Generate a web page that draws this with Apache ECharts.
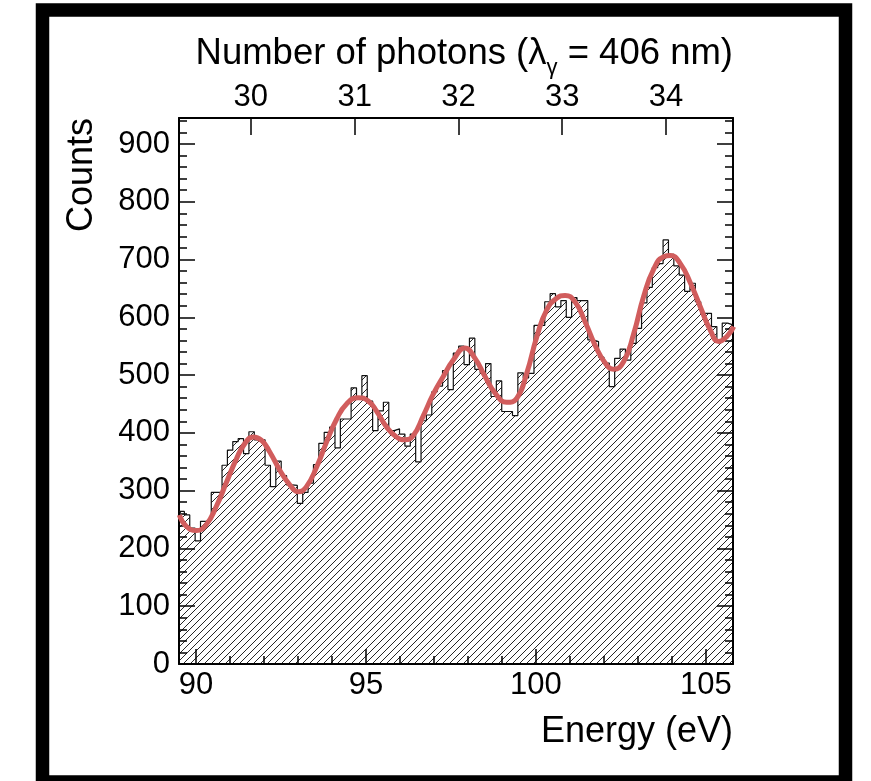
<!DOCTYPE html>
<html><head><meta charset="utf-8">
<script src="https://cdn.jsdelivr.net/npm/echarts@6/dist/echarts.min.js"></script>
<style>html,body{margin:0;padding:0;background:#fff}#c{width:871px;height:781px}</style>
</head><body><div id="c"></div>
<script>
// ---- data ----
const histMin = 89.5;   // eV, histogram / axis range
const histMax = 105.8;
const counts = [
  264, 258, 235, 213, 247, 249, 297, 297, 344, 370, 385, 390, 364, 402, 388, 388,
  344, 307, 351, 326, 310, 309, 278, 297, 313, 345, 382, 401, 410, 374, 424, 424,
  478, 458, 499, 455, 404, 438, 453, 404, 407, 398, 377, 398, 350, 421, 431, 471,
  481, 508, 475, 538, 550,
  518, 564, 510, 503, 520, 463, 490, 437, 437, 430, 504, 495, 503, 586, 586, 627,
  641, 618, 629, 600, 634, 629, 629, 561, 558, 531, 521, 480, 529, 545, 526, 555,
  581, 625, 652, 686, 693, 734, 709, 689, 673, 645, 659, 627, 607, 607, 584, 558,
  590, 587
];
const fitEnergy = [
  89.51, 89.72, 90.01, 90.30, 90.60, 90.90, 91.19, 91.43, 91.68, 91.93, 92.17, 92.47,
  92.76, 93.01, 93.25, 93.55, 93.84, 94.14, 94.43, 94.77, 95.07, 95.31, 95.61, 95.90,
  96.15, 96.39, 96.69, 96.98, 97.28, 97.57, 97.91, 98.21, 98.50, 98.80, 99.14, 99.44,
  99.73, 100.03, 100.32, 100.61, 100.86, 101.15, 101.45, 101.74, 102.04, 102.29, 102.58,
  102.88, 103.17, 103.47, 103.76, 103.96, 104.25, 104.55, 104.84, 105.13, 105.38, 105.62, 105.82
];
const fitCounts = [
  258, 238, 231, 241, 273, 315, 355, 381, 393, 387, 367, 335,
  310, 298, 307, 341, 384, 424, 450, 461, 455, 438, 410, 393,
  388, 395, 430, 467, 498, 526, 547, 529, 498, 469, 453, 460,
  503, 567, 613, 633, 638, 627, 592, 552, 521, 510, 523,
  572, 636, 684, 705, 707, 693, 659, 618, 578, 558, 567, 584
];
const energyMajorTicks = [90, 95, 100, 105];
const energyMinorTicks = [90, 91, 92, 93, 94, 95, 96, 97, 98, 99, 100, 101, 102, 103, 104, 105];
const photonTicks = [30, 31, 32, 33, 34];
const countMajorTicks = [0, 100, 200, 300, 400, 500, 600, 700, 800, 900];
const countMinorTicks = [0, 20, 40, 60, 80, 100, 120, 140, 160, 180, 200, 220, 240, 260, 280,
  300, 320, 340, 360, 380, 400, 420, 440, 460, 480, 500, 520, 540, 560, 580, 600, 620, 640,
  660, 680, 700, 720, 740, 760, 780, 800, 820, 840, 860, 880, 900, 920, 940];
const countMax = 945;
const photonEnergy = 1239.84 / 406; // eV per photon at 406 nm

// ---- build ----
const binWidth = (histMax - histMin) / counts.length;
const histPoints = counts.map((c, i) => [histMin + i * binWidth, c]);
histPoints.push([histMax, counts[counts.length - 1]]);
const fitPoints = fitEnergy.map((e, i) => [e, fitCounts[i]]);

// hatch pattern "/"
const hatch = document.createElement('canvas');
hatch.width = 7; hatch.height = 7;
const hc = hatch.getContext('2d');
hc.strokeStyle = '#000'; hc.lineWidth = 0.85;
hc.beginPath();
hc.moveTo(-1, 8); hc.lineTo(8, -1);
hc.moveTo(-1, 1); hc.lineTo(1, -1);
hc.moveTo(6, 8); hc.lineTo(8, 6);
hc.stroke();

const FONT = "'Liberation Sans', Arial, Helvetica, sans-serif";
const tickFont = 31;
const titleFont = 36;

const chart = echarts.init(document.getElementById('c'), null, {renderer: 'canvas'});
chart.setOption({
  animation: false,
  backgroundColor: '#fff',
  grid: {left: 179, right: 138, top: 118, bottom: 117, containLabel: false},
  xAxis: [
    { // bottom energy axis, major
      type: 'value', position: 'bottom', min: histMin, max: histMax,
      axisLine: {show: true, onZero: false, lineStyle: {color: '#000', width: 2}},
      axisTick: {show: true, inside: true, length: 15, customValues: energyMajorTicks, lineStyle: {color: '#000', width: 1.5}},
      axisLabel: {show: true, customValues: energyMajorTicks, margin: 6, color: '#000', fontSize: tickFont, fontFamily: FONT},
      splitLine: {show: false}
    },
    { // bottom energy axis, minor ticks
      type: 'value', position: 'bottom', min: histMin, max: histMax,
      axisLine: {show: false, onZero: false},
      axisTick: {show: true, inside: true, length: 8, customValues: energyMinorTicks, lineStyle: {color: '#000', width: 1.5}},
      axisLabel: {show: false},
      splitLine: {show: false}
    },
    { // top photon number axis
      type: 'value', position: 'top', min: histMin / photonEnergy, max: histMax / photonEnergy,
      axisLine: {show: true, onZero: false, lineStyle: {color: '#000', width: 2}},
      axisTick: {show: true, inside: true, length: 17, customValues: photonTicks, lineStyle: {color: '#000', width: 1.5}},
      axisLabel: {show: true, customValues: photonTicks, margin: 5, color: '#000', fontSize: tickFont, fontFamily: FONT},
      splitLine: {show: false}
    }
  ],
  yAxis: [
    {
      type: 'value', position: 'left', min: 0, max: countMax,
      axisLine: {show: true, onZero: false, lineStyle: {color: '#000', width: 2}},
      axisTick: {show: true, inside: true, length: 16, customValues: countMajorTicks, lineStyle: {color: '#000', width: 1.5}},
      axisLabel: {show: true, customValues: countMajorTicks, margin: 9, color: '#000', fontSize: tickFont, fontFamily: FONT},
      splitLine: {show: false}
    },
    {
      type: 'value', position: 'left', min: 0, max: countMax,
      axisLine: {show: false, onZero: false},
      axisTick: {show: true, inside: true, length: 8, customValues: countMinorTicks, lineStyle: {color: '#000', width: 1.5}},
      axisLabel: {show: false}, splitLine: {show: false}
    },
    {
      type: 'value', position: 'right', min: 0, max: countMax,
      axisLine: {show: true, onZero: false, lineStyle: {color: '#000', width: 2}},
      axisTick: {show: true, inside: true, length: 16, customValues: countMajorTicks, lineStyle: {color: '#000', width: 1.5}},
      axisLabel: {show: false}, splitLine: {show: false}
    },
    {
      type: 'value', position: 'right', min: 0, max: countMax,
      axisLine: {show: false, onZero: false},
      axisTick: {show: true, inside: true, length: 8, customValues: countMinorTicks, lineStyle: {color: '#000', width: 1.5}},
      axisLabel: {show: false}, splitLine: {show: false}
    }
  ],
  series: [
    {
      name: 'Counts', type: 'line', xAxisIndex: 0, yAxisIndex: 0,
      data: histPoints, step: 'end', symbol: 'none', clip: true,
      lineStyle: {color: '#111', width: 1.2},
      areaStyle: {color: {image: hatch, repeat: 'repeat'}, opacity: 1, origin: 'start'},
      z: 2
    },
    {
      name: 'Fit', type: 'line', xAxisIndex: 0, yAxisIndex: 0,
      data: fitPoints, smooth: 0.5, symbol: 'none', clip: true,
      lineStyle: {color: '#d15d5d', width: 5},
      z: 3
    }
  ],
  graphic: [
    {type: 'rect', silent: true, z: 10,
     shape: {x: 42.5, y: 10, width: 803, height: 772},
     style: {fill: 'none', stroke: '#000', lineWidth: 13.5}},
    {type: 'text', silent: true, x: 733, y: 57,
     style: {text: '{a|Number of photons (λ}{s|γ}{a| = 406 nm)}', align: 'right', verticalAlign: 'middle',
       rich: {
         a: {fontSize: 36.5, fontFamily: FONT, fill: '#000', lineHeight: 44, verticalAlign: 'top'},
         s: {fontSize: 22, fontFamily: FONT, fill: '#000', lineHeight: 22, verticalAlign: 'bottom'}
       }}},
    {type: 'text', silent: true, x: 733, y: 732,
     style: {text: 'Energy (eV)', align: 'right', verticalAlign: 'middle', fontSize: titleFont, fontFamily: FONT, fill: '#000'}},
    {type: 'text', silent: true, x: 82, y: 118, rotation: Math.PI / 2,
     style: {text: 'Counts', align: 'right', verticalAlign: 'middle', fontSize: titleFont, fontFamily: FONT, fill: '#000'}}
  ]
});
</script>
</body></html>
